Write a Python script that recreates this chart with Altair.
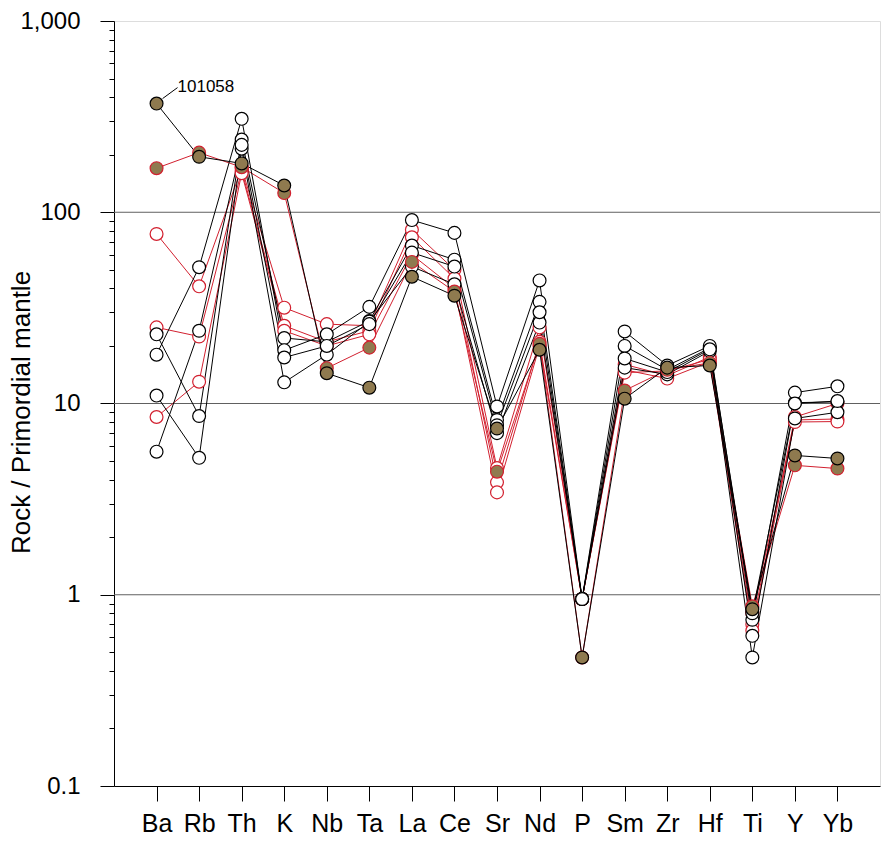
import altair as alt
import pandas as pd

elements = ["Ba", "Rb", "Th", "K", "Nb", "Ta", "La", "Ce", "Sr", "Nd",
            "P", "Sm", "Zr", "Hf", "Ti", "Y", "Yb"]

# red open-circle samples
r1 = [77, 41, 170, 31.7, 26, 25.5, 81, 50, 4.6, 25, 0.95, 16, 14, 17.5, 0.7, 8.5, 10]
r2 = [25, 22.4, 165, 25.5, 21, 24, 74, 45, 3.87, 21, 0.95, 15, 13.5, 16.5, 0.65, 8.2, 8.3]
r3 = [8.5, 13, 160, 24, 20, 23, 60, 40, 3.43, 20, 0.95, 14.5, 14.8, 17, 0.8, 8.0, 8.05]
# black open-circle samples
b1 = [23, 8.6, 240, 22, 21, 27, 67, 56.5, 8.2, 34, 0.95, 20, 15.0, 19.5, 0.61, 10.1, 10.2]
b2 = [18, 51.6, 308, 19, 23, 32, 91, 78, 9.65, 44, 0.95, 23.8, 15.8, 20, 0.74, 11.4, 12.3]
b3 = [11, 5.2, 215, 12.9, 18, 26.8, 52, 42, 7.0, 26.5, 0.95, 15.4, 14.2, 18.8, 0.47, 8.35, 9.0]
b4 = [5.6, 24, 225, 17.4, 20, 26, 61.5, 52, 7.7, 30, 0.95, 17.2, 14.6, 19.2, 0.8, 10.0, 10.3]
# filled (brown) samples
r0 = [170, 205, 172, 126, 15.3, 19.6, 55, 38.5, 4.4, 20.5, 0.47, 11.7, 15.0, 16.3, 0.87, 4.75, 4.57]
b0 = [370, 195, 180, 138, 14.4, 12.1, 46, 36.6, 7.4, 19.1, 0.47, 10.6, 15.4, 15.8, 0.84, 5.35, 5.16]

series = [
    ("r1", "red", "open", r1),
    ("r2", "red", "open", r2),
    ("r3", "red", "open", r3),
    ("b1", "black", "open", b1),
    ("b2", "black", "open", b2),
    ("b3", "black", "open", b3),
    ("b4", "black", "open", b4),
    ("r0", "red", "filled", r0),
    ("b0", "black", "filled", b0),
]

label_text = ["101058"]
label_elem = ["Ba"]
label_val = [370]

gridlines = [1, 10, 100]
tick_values = sorted(set([round(m * 10 ** e, 6) for e in range(-1, 3) for m in range(1, 10)] + [1000]))

rows = []
z = 0
for name, col, kind, vals in series:
    for el, v in zip(elements, vals):
        rows.append({"sample": name, "linecol": col, "kind": col + "_" + kind,
                     "element": el, "value": v, "z": z})
        z += 1
df = pd.DataFrame(rows)

RED = "#d2202f"
BROWN = "#8f7a4f"

xscale = alt.Scale(type="point", padding=1, domain=elements)
xaxis = alt.Axis(title=None, labelAngle=0, labelFontSize=25, labelColor="black",
                 labelPadding=10, tickSize=15, tickColor="black",
                 domainColor="black", labelFont="Liberation Sans")
xenc = alt.X("element:N", sort=elements, scale=xscale, axis=xaxis)
yscale = alt.Scale(type="log", domain=[0.1, 1000], nice=False)
test = "indexof([0.1, 1, 10, 100, 1000], datum.value) >= 0"
yaxis = alt.Axis(title="Rock / Primordial mantle", values=tick_values,
                 labelExpr="indexof([0.1, 1, 10, 100, 1000], datum.value) >= 0 ? format(datum.value, ',') : ''",
                 tickSize={"condition": {"test": test, "value": 14}, "value": 5},
                 tickColor="black", domainColor="black", grid=False,
                 labelFontSize=24, labelColor="black", labelPadding=20,
                 labelFont="Liberation Sans",
                 titleFontSize=26, titleFontWeight="normal", titleColor="black",
                 titleFont="Liberation Sans", titleX=-80, titleY=391, titleAngle=270,
                 titleBaseline="bottom", titleAlign="center")
yenc = alt.Y("value:Q", scale=yscale, axis=yaxis)

base = alt.Chart(df)

grid = alt.Chart(pd.DataFrame({"value": gridlines})).mark_rule(color="#606060", strokeWidth=1).encode(
    y=yenc)

red_lines = base.transform_filter("datum.linecol == 'red'").mark_line(strokeWidth=1, color=RED).encode(
    x=xenc, y=yenc, detail="sample:N")
black_lines = base.transform_filter("datum.linecol == 'black'").mark_line(strokeWidth=1, color="black").encode(
    x=xenc, y=yenc, detail="sample:N")

points = base.mark_point(shape="circle", size=165, strokeWidth=1.2, opacity=1, filled=False).encode(
    x=xenc, y=yenc,
    fill=alt.Fill("kind:N", legend=None,
                  scale=alt.Scale(domain=["red_open", "black_open", "red_filled", "black_filled"],
                                  range=["white", "white", BROWN, BROWN])),
    stroke=alt.Stroke("kind:N", legend=None,
                      scale=alt.Scale(domain=["red_open", "black_open", "red_filled", "black_filled"],
                                      range=[RED, "black", RED, "black"])),
    order=alt.Order("z:Q"),
)

lab_df = pd.DataFrame({"text": label_text, "element": label_elem, "value": label_val})
leader = alt.Chart(lab_df).mark_rule(color="black", strokeWidth=1, xOffset=6, yOffset=-5,
                                     x2Offset=21, y2Offset=-16).encode(
    x=xenc, x2="element:N", y=yenc, y2="value:Q")
label = alt.Chart(lab_df).mark_text(align="left", baseline="middle", dx=21, dy=-17,
                                    fontSize=17, font="Liberation Sans", color="black").encode(
    x=xenc, y=yenc, text="text:N")

chart = alt.layer(grid, red_lines, black_lines, leader, points, label).properties(
    width=766, height=765,
    autosize=alt.AutoSizeParams(type="none"),
    padding={"left": 114, "top": 21, "right": 1, "bottom": 55},
).configure_view(stroke="black", strokeWidth=1).configure(background="white")

chart.save("out.html", embed_options={"renderer": "svg", "actions": False})
